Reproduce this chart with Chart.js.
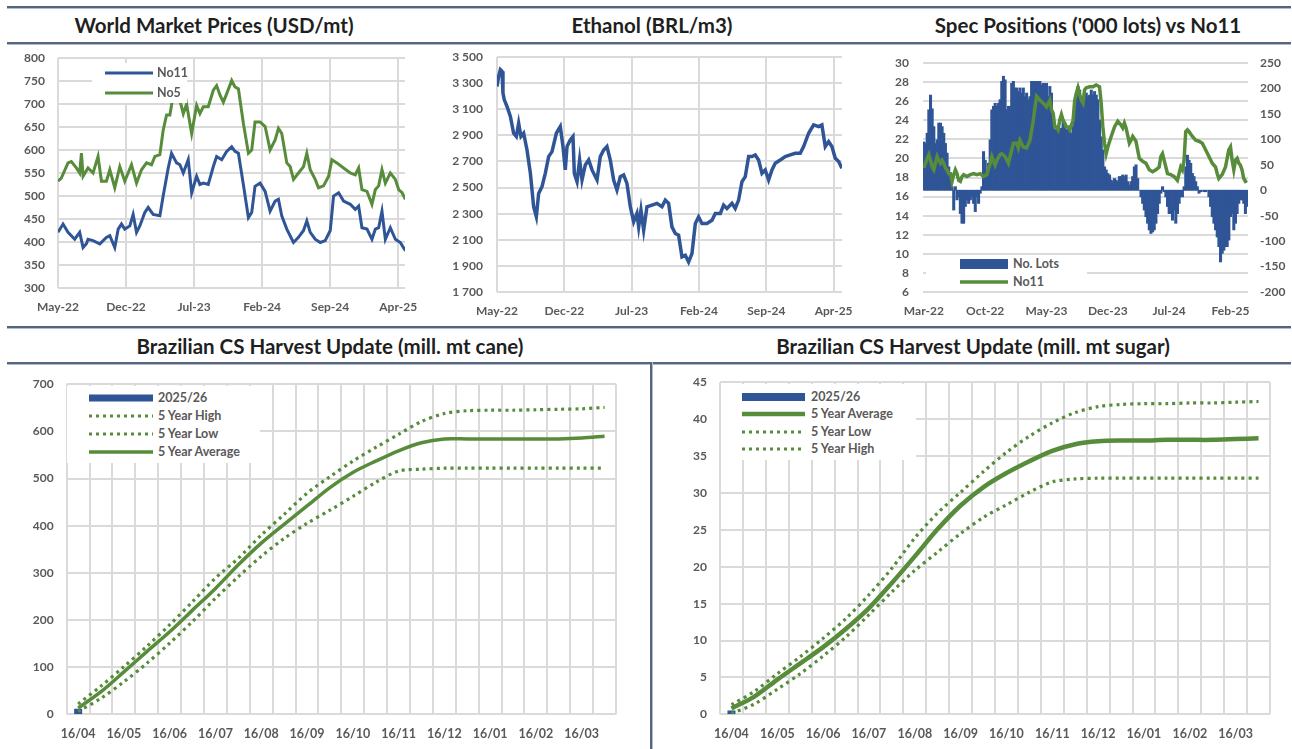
<!DOCTYPE html>
<html>
<head>
<meta charset="utf-8">
<title>Sugar market dashboard</title>
<script src="https://cdn.jsdelivr.net/npm/chart.js@4.4.0/dist/chart.umd.min.js"></script>
<style>
  html, body { margin: 0; padding: 0; background: #fff; }
  body { position: relative; width: 1292px; height: 749px; overflow: hidden; font-family: Lato, "Open Sans", sans-serif; }
  canvas { position: absolute; }
  .rule { position: absolute; height: 2px; background: #56647f; border-bottom: 1px solid #b3bccd; }
  .vrule { position: absolute; width: 2px; background: #56647f; border-right: 1px solid #b3bccd; }
  .title { position: absolute; transform: translateX(-50%); white-space: nowrap; font-weight: 700; font-size: 20.5px; line-height: 22px; color: #1f1f1f; }
  .legend { position: absolute; background: #fff; }
  .legend .item { position: absolute; left: 0; width: 100%; height: 14px; }
  .legend svg { position: absolute; top: 0; }
  .legend span { position: absolute; top: 0; line-height: 14px; font-size: 12.5px; font-weight: 700; color: #595959; white-space: nowrap; }
</style>
</head>
<body>
<div class="rule" style="left:7px; top:6px; width:1284px"></div>
<div class="rule" style="left:7px; top:42px; width:1284px"></div>
<div class="rule" style="left:7px; top:326px; width:1284px"></div>
<div class="rule" style="left:7px; top:362px; width:1284px"></div>
<div class="vrule" style="left:650px; top:362px; height:387px"></div>

<div class="title" style="left:214px; top:14px">World Market Prices (USD/mt)</div>
<div class="title" style="left:652px; top:14px">Ethanol (BRL/m3)</div>
<div class="title" style="left:1088px; top:14px">Spec Positions ('000 lots) vs No11</div>
<div class="title" style="left:330px; top:335px">Brazilian CS Harvest Update (mill. mt cane)</div>
<div class="title" style="left:973px; top:335px">Brazilian CS Harvest Update (mill. mt sugar)</div>

<canvas id="prices" width="430" height="282" style="left:0; top:46px"></canvas>
<canvas id="ethanol" width="430" height="282" style="left:430px; top:46px"></canvas>
<canvas id="spec" width="432" height="282" style="left:860px; top:46px"></canvas>
<canvas id="cane" width="650" height="383" style="left:0; top:366px"></canvas>
<canvas id="sugar" width="638" height="383" style="left:654px; top:366px"></canvas>

<script>
// months counted from May-22 (prices, ethanol) or Mar-22 (spec positions)
const no11Months = [0,0.52,1.03,1.72,2.23,2.58,2.92,3.09,3.61,4.30,4.98,5.33,5.84,6.19,6.53,6.87,7.39,7.73,8.08,8.42,8.93,9.28,9.79,10.48,10.82,11.34,11.68,12.2,12.54,12.89,13.4,13.75,14.26,14.6,14.95,15.46,15.98,16.32,16.84,17.35,17.87,18.21,18.56,19.07,19.59,19.93,20.27,20.79,21.31,21.82,22.34,22.68,23.02,23.54,24.23,24.74,25.26,25.6,25.95,26.46,26.98,27.49,28.01,28.35,28.87,29.38,30.07,30.58,30.93,31.27,31.79,32.3,32.65,32.99,33.33,33.68,34.19,34.71,35.22,35.74];
const no11Prices = [421,439,421,406,421,388,396,406,403,396,410,414,388,428,439,428,435,460,421,435,464,475,460,457,500,561,593,572,568,550,579,507,543,525,528,525,564,586,579,597,607,597,593,525,453,464,521,528,510,467,489,493,457,428,399,410,425,446,421,406,399,403,425,500,507,489,482,471,478,431,428,406,428,431,467,406,431,406,399,381];

const no5Months = [0,0.34,1.03,1.37,1.89,2.23,2.41,2.58,3.09,3.61,4.12,4.47,4.98,5.33,5.84,6.36,6.87,7.56,8.08,8.59,9.11,9.62,9.97,10.48,10.82,11.17,11.51,11.86,12.54,12.89,13.23,13.75,14.26,14.6,14.95,15.46,15.98,16.32,16.67,17.01,17.35,17.87,18.21,18.56,19.07,19.59,19.93,20.27,20.79,21.31,21.82,22.34,22.68,23.02,23.54,23.88,24.23,24.74,25.26,25.6,25.95,26.46,26.8,27.32,27.84,28.18,28.69,29.38,30.07,30.58,30.93,31.27,31.79,32.3,32.65,32.99,33.33,33.68,34.19,34.71,35.05,35.4,35.74];
const no5Prices = [532,539,572,575,561,550,593,543,561,550,586,532,532,557,518,564,532,568,528,557,572,568,586,590,643,676,676,720,708,679,700,636,697,679,694,694,730,740,719,704,722,751,737,733,658,593,600,661,661,651,600,622,647,636,572,564,536,550,564,593,557,536,518,522,543,579,572,561,550,546,561,514,510,482,514,522,557,528,550,536,514,507,493];

const ethanolMonths = [0,0.17,0.35,0.52,0.62,0.76,1.04,1.39,1.73,2.01,2.25,2.49,2.77,3.12,3.47,3.81,4.09,4.33,4.68,5.02,5.37,5.72,6.17,6.58,6.86,7.10,7.28,7.62,7.90,8.04,8.32,8.59,8.84,9.18,9.53,9.88,10.40,10.74,11.09,11.43,11.78,12.13,12.47,12.82,13.17,13.51,13.86,14.21,14.55,14.73,14.97,15.25,15.59,16.11,16.63,17.15,17.50,17.84,18.19,18.54,18.88,19.23,19.58,19.92,20.27,20.62,20.96,21.31,21.83,22.35,22.70,23.22,23.56,23.91,24.43,24.77,25.12,25.47,25.81,26.16,26.51,26.85,27.20,27.55,27.89,28.24,28.59,28.93,29.45,29.97,30.49,31.01,31.53,31.88,32.40,32.92,33.44,33.78,34.13,34.48,34.82,35.17,35.52,35.86];
const ethanolPrices = [3275,3351,3403,3390,3224,3172,3121,3044,2916,2891,2993,2891,2916,2788,2609,2353,2276,2455,2507,2609,2737,2775,2916,2967,2814,2635,2814,2865,2891,2609,2545,2711,2558,2673,2711,2635,2558,2737,2788,2814,2711,2558,2481,2583,2596,2532,2353,2238,2302,2199,2327,2174,2353,2366,2379,2353,2404,2379,2199,2148,2135,1969,1981,1930,1994,2225,2276,2225,2225,2250,2302,2302,2366,2340,2379,2340,2404,2545,2583,2737,2737,2750,2711,2609,2635,2558,2635,2686,2711,2737,2750,2763,2763,2814,2916,2980,2967,2980,2814,2852,2814,2724,2699,2647];

const specNo11Months = [0,0.19,0.38,0.57,0.76,0.95,1.14,1.32,1.51,1.70,1.89,2.08,2.27,2.46,2.65,2.84,3.03,3.22,3.41,3.59,3.78,3.97,4.16,4.35,4.54,4.92,5.30,5.68,6.05,6.43,6.81,7.19,7.57,7.76,7.95,8.13,8.32,8.70,8.89,9.27,9.65,9.84,10.22,10.59,10.78,10.97,11.35,11.73,12.11,12.49,12.86,13.24,13.62,14.00,14.38,14.57,14.76,14.95,15.13,15.32,15.51,15.70,15.89,16.08,16.27,16.46,16.65,17.03,17.22,17.40,17.59,17.78,17.97,18.16,18.35,18.54,18.92,19.30,19.67,20.05,20.24,20.43,20.62,20.81,21.00,21.38,21.76,22.13,22.51,22.70,22.89,23.08,23.46,23.65,23.84,24.21,24.59,24.97,25.35,25.73,26.11,26.49,26.86,27.05,27.24,27.43,27.62,27.81,28.19,28.57,28.94,29.13,29.32,29.51,29.70,29.89,30.08,30.27,30.65,31.03,31.40,31.78,32.16,32.54,32.92,33.30,33.49,33.67,34.05,34.43,34.81,35.00,35.19,35.38,35.57,35.76,35.95,36.13,36.32,36.51,36.70,36.89];
const specNo11 = [19.0,19.5,20.0,20.4,19.8,19.1,18.8,19.5,20.2,19.8,19.5,19.8,19.5,19.0,18.8,18.4,18.4,17.6,18.3,18.8,18.4,17.7,17.6,18.1,18.3,18.1,18.3,18.4,18.3,18.4,18.1,18.3,19.5,20.2,19.7,19.3,19.8,20.4,20.5,20.2,19.5,20.2,21.6,21.6,21.1,21.9,21.2,21.1,21.9,24.0,26.5,26.1,25.8,25.4,26.1,25.1,24.7,23.3,23.3,23.0,24.0,24.6,24.0,23.7,23.3,23.3,23.0,24.0,26.1,26.8,27.4,26.7,26.1,25.8,27.2,27.4,27.5,27.5,27.7,27.5,25.8,23.3,21.6,20.5,21.2,22.3,23.3,23.9,23.5,23.2,23.7,23.2,21.6,21.9,22.3,21.8,20.0,19.7,19.5,18.8,18.6,18.8,19.1,20.2,20.5,19.8,19.1,18.4,18.3,18.1,17.7,18.4,19.1,18.8,19.8,22.8,23.0,22.8,22.3,21.9,21.8,21.6,20.9,20.2,19.5,19.1,18.4,17.9,18.3,19.1,20.9,21.2,19.8,18.8,19.8,20.0,19.5,19.3,18.8,17.9,17.6,17.7];

// spec lots ('000), one reading per 0.1892 month starting Mar-22
const lotsStep = 0.1892;
const specLots = [95,92,112,158,187,160,125,92,99,132,132,125,112,92,73,46,27,7,-39,7,-19,-13,-46,-65,-65,-32,-19,-26,-19,-13,-26,-42,-13,-26,-6,7,76,59,27,53,99,158,165,171,165,171,178,214,224,217,158,165,165,210,214,201,201,194,201,191,201,184,191,178,184,214,214,214,214,214,214,207,210,210,210,184,204,191,145,119,119,122,119,122,138,125,119,119,115,112,125,171,191,204,197,178,178,174,191,184,187,197,187,194,187,178,138,105,79,46,40,33,30,20,17,23,20,17,27,27,30,27,30,17,10,17,27,46,50,23,0,-13,-26,-39,-52,-65,-78,-85,-82,-78,-65,-46,-26,-6,7,-3,-13,-32,-46,-46,-59,-39,-65,-46,-26,-13,-13,7,46,69,59,53,33,27,17,7,-6,-3,0,-3,-3,0,-13,-32,-52,-65,-78,-92,-111,-141,-124,-118,-111,-111,-98,-52,-46,-78,-65,-46,-26,-19,-19,-26,-46,-32];

const harvestDates = ['16/04','01/05','16/05','01/06','16/06','01/07','16/07','01/08','16/08','01/09','16/09','01/10','16/10','01/11','16/11','01/12','16/12','01/01','16/01','01/02','16/02','01/03','16/03','01/04'];
const cane2025 = [12];
const caneAvg = [13,48,90,133,175,221,267,317,363,403,442,481,513,537,559,576,584,584,584,584,584,584,586,590];
const caneHigh = [22,60,101,144,190,239,289,331,380,424,469,504,537,566,594,621,638,644,645,645,646,647,648,651];
const caneLow = [6,34,69,108,151,197,246,292,335,373,405,433,462,492,516,520,522,522,522,522,522,522,522,522];
const sugar2025 = [0.5];
const sugarAvg = [0.8,2.4,4.7,6.9,9.1,11.6,14.4,17.8,21.4,25.1,28.3,30.8,32.7,34.3,35.7,36.6,37.0,37.1,37.1,37.2,37.2,37.2,37.3,37.4];
const sugarHigh = [1.3,3.1,5.5,7.8,10.3,13.0,16.2,19.8,23.9,27.3,30.1,32.9,35.5,37.7,39.5,40.9,41.7,42.0,42.1,42.1,42.2,42.2,42.3,42.4];
const sugarLow = [0.1,1.4,3.4,5.5,7.9,10.5,13.5,16.6,19.5,22.0,24.5,26.7,28.4,30.1,31.5,31.9,32.0,32.0,32.0,32.0,32.0,32.0,32.0,32.0];

const BLUE = '#2f5597';
const GREEN = '#578c3a';
const GRID = '#dadada';
const TICK = '#595959';
const tickFont = { family: 'Lato', size: 12, weight: 'bold' };
const monthNames = ['Jan','Feb','Mar','Apr','May','Jun','Jul','Aug','Sep','Oct','Nov','Dec'];

function monthLabel(v, startMonth) {
  const k = startMonth + Math.round(v);
  return monthNames[k % 12] + '-' + (22 + Math.floor(k / 12));
}
const pts = (xs, ys) => xs.map((x, i) => ({ x: x, y: ys[i] }));
// pin axis sizes and drop the label overhang padding so the plot boxes land where the reference has them
const fixWidth = w => s => { s.width = w; s.paddingTop = 0; s.paddingBottom = 0; };
const fixHeight = h => s => { s.height = h; s.paddingLeft = 0; s.paddingRight = 0; };
const spaced = v => String(v).replace(/\B(?=(\d{3})+(?!\d))/g, ' ');
const noGrid = () => ({ display: false, drawTicks: false });

// grid lines stroked by hand: at the ticks of the listed axes, or at category edges for offset axes
const plotGrid = {
  id: 'plotGrid',
  beforeDatasetsDraw(chart, args, opts) {
    const a = chart.chartArea;
    const ctx = chart.ctx;
    ctx.save();
    ctx.strokeStyle = GRID;
    ctx.lineWidth = 2;
    ctx.beginPath();
    (opts.axes || []).forEach(id => {
      const s = chart.scales[id];
      let pos;
      if (s.type === 'category') {
        pos = [];
        for (let i = 0; i <= s.ticks.length; i++) pos.push(s.left + (s.right - s.left) * i / s.ticks.length);
      } else {
        pos = s.ticks.map(t => s.getPixelForValue(t.value));
      }
      pos.forEach(p => {
        p = Math.round(p);
        if (s.isHorizontal()) { ctx.moveTo(p, a.top); ctx.lineTo(p, a.bottom); }
        else { ctx.moveTo(a.left, p); ctx.lineTo(a.right, p); }
      });
    });
    ctx.stroke();
    ctx.restore();
  }
};

Chart.defaults.font.family = 'Lato';
Chart.defaults.animation = false;

function baseOptions(gridAxes) {
  return {
    responsive: false,
    devicePixelRatio: 1,
    plugins: { legend: { display: false }, tooltip: { enabled: false }, plotGrid: { axes: gridAxes } },
    elements: { point: { radius: 0 } }
  };
}

function monthAxis(max, startMonth, height, min) {
  return {
    type: 'linear', min: min || 0, max: max, offset: false, afterFit: fixHeight(height),
    ticks: { stepSize: 7, includeBounds: false, autoSkip: false, maxRotation: 0,
             font: tickFont, color: TICK, padding: 12, callback: v => monthLabel(v, startMonth) },
    grid: noGrid(), border: { display: false }
  };
}

const prices = new Chart(document.getElementById('prices'), {
  data: { datasets: [
    { type: 'line', label: 'No11', data: pts(no11Months, no11Prices), borderColor: BLUE, borderWidth: 3, tension: 0 },
    { type: 'line', label: 'No5', data: pts(no5Months, no5Prices), borderColor: GREEN, borderWidth: 3, tension: 0 }
  ]},
  plugins: [plotGrid],
  options: Object.assign(baseOptions(['x', 'y']), {
    layout: { padding: { left: 0, right: 25, top: 12, bottom: 0 } },
    scales: {
      x: monthAxis(35.7, 4, 40),
      y: { type: 'linear', min: 300, max: 800, afterFit: fixWidth(58),
           ticks: { stepSize: 50, font: tickFont, color: TICK, padding: 13 },
           grid: noGrid(), border: { display: false } }
    }
  })
});

const ethanol = new Chart(document.getElementById('ethanol'), {
  data: { datasets: [
    { type: 'line', label: 'Ethanol', data: pts(ethanolMonths, ethanolPrices), borderColor: BLUE, borderWidth: 3.5, tension: 0 }
  ]},
  plugins: [plotGrid],
  options: Object.assign(baseOptions(['x', 'y']), {
    layout: { padding: { left: 0, right: 18, top: 11, bottom: 0 } },
    scales: {
      x: monthAxis(35.87, 4, 36),
      y: { type: 'linear', min: 1700, max: 3500, afterFit: fixWidth(67),
           ticks: { stepSize: 200, font: tickFont, color: TICK, padding: 14, callback: spaced },
           grid: noGrid(), border: { display: false } }
    }
  })
});

const spec = new Chart(document.getElementById('spec'), {
  data: { datasets: [
    { type: 'line', label: 'No11', data: pts(specNo11Months, specNo11), borderColor: GREEN, borderWidth: 3.5, tension: 0, yAxisID: 'y', order: 0 },
    { type: 'bar', label: 'No. Lots', data: specLots.map((v, i) => ({ x: i * lotsStep, y: v })), backgroundColor: BLUE,
      borderWidth: 0, barThickness: 2.4, yAxisID: 'y1', order: 1 }
  ]},
  plugins: [plotGrid],
  options: Object.assign(baseOptions(['y']), {
    layout: { padding: { left: 0, right: 0, top: 17, bottom: 0 } },
    scales: {
      x: monthAxis(37.0, 2, 36, -0.1),
      y: { type: 'linear', position: 'left', min: 6, max: 30, afterFit: fixWidth(63),
           ticks: { stepSize: 2, font: tickFont, color: TICK, padding: 14 },
           grid: noGrid(), border: { display: false } },
      y1: { type: 'linear', position: 'right', min: -200, max: 250, afterFit: fixWidth(44),
            ticks: { stepSize: 50, font: tickFont, color: TICK, padding: 12 },
            grid: noGrid(), border: { display: false } }
    }
  })
});

function harvestChart(id, bar, avg, high, low, yMax, yStep, yWidth, padRight, padTop, avgWidth) {
  return new Chart(document.getElementById(id), {
    data: {
      labels: harvestDates,
      datasets: [
        { type: 'bar', label: '2025/26', data: bar, backgroundColor: BLUE, barPercentage: 0.35, categoryPercentage: 1, order: 3 },
        { type: 'line', label: '5 Year High', data: high, borderColor: GREEN, borderWidth: 3.2, borderDash: [3, 4], tension: 0.3, order: 2 },
        { type: 'line', label: '5 Year Low', data: low, borderColor: GREEN, borderWidth: 3.2, borderDash: [3, 4], tension: 0.3, order: 1 },
        { type: 'line', label: '5 Year Average', data: avg, borderColor: GREEN, borderWidth: avgWidth, tension: 0.3, order: 0 }
      ]
    },
    plugins: [plotGrid],
    options: Object.assign(baseOptions(['x', 'y']), {
      layout: { padding: { left: 0, right: padRight, top: padTop, bottom: 0 } },
      scales: {
        x: { type: 'category', offset: true, afterFit: fixHeight(34.7),
             ticks: { autoSkip: false, maxRotation: 0, minRotation: 0, font: Object.assign({}, tickFont, { size: 12.5 }), color: TICK, padding: 12,
                      callback: function (v, i) { return i % 2 ? '' : this.getLabelForValue(v); } },
             grid: noGrid(), border: { display: false } },
        y: { type: 'linear', min: 0, max: yMax, afterFit: fixWidth(yWidth),
             ticks: { stepSize: yStep, font: tickFont, color: TICK, padding: 13 },
             grid: noGrid(), border: { display: false } }
      }
    })
  });
}

const cane = harvestChart('cane', cane2025, caneAvg, caneHigh, caneLow, 700, 100, 66.7, 34, 18.3, 3.5);
const sugar = harvestChart('sugar', sugar2025, sugarAvg, sugarHigh, sugarLow, 45, 5, 66, 22, 16.3, 4.5);

// legends drawn as html boxes on top of the plots
function legend(chart, box, order) {
  const div = document.createElement('div');
  div.className = 'legend';
  Object.assign(div.style, { left: box.left + 'px', top: box.top + 'px', width: box.width + 'px', height: box.height + 'px' });
  order.forEach((idx, r) => {
    const ds = chart.data.datasets[idx];
    const item = document.createElement('div');
    item.className = 'item';
    item.style.top = (box.rows[r] - 7) + 'px';
    const w = box.sampleWidth;
    let mark;
    if (ds.type === 'bar') {
      mark = `<rect x="0" y="${7 - box.barH / 2}" width="${w}" height="${box.barH}" fill="${ds.backgroundColor}"/>`;
    } else {
      const dash = ds.borderDash ? `stroke-dasharray="${ds.borderDash.join(' ')}"` : '';
      mark = `<line x1="0" y1="7" x2="${w}" y2="7" stroke="${ds.borderColor}" stroke-width="${ds.borderWidth}" ${dash}/>`;
    }
    item.innerHTML = `<svg width="${w}" height="14" style="left:${box.sampleLeft}px">${mark}</svg>` +
      `<span style="left:${box.textLeft}px">${ds.label}</span>`;
    div.appendChild(item);
  });
  document.body.appendChild(div);
}

legend(prices, { left: 92, top: 63, width: 95, height: 40, rows: [10.3, 30.3], sampleLeft: 13, sampleWidth: 48, textLeft: 65, barH: 8 }, [0, 1]);
legend(spec, { left: 926, top: 255, width: 161, height: 34, rows: [9, 26.7], sampleLeft: 34, sampleWidth: 48, textLeft: 87, barH: 10 }, [1, 0]);
legend(cane, { left: 67, top: 386, width: 193, height: 77, rows: [12.3, 30, 48, 66], sampleLeft: 22, sampleWidth: 64, textLeft: 91, barH: 7 }, [0, 1, 2, 3]);
legend(sugar, { left: 721, top: 384, width: 195, height: 76, rows: [12.7, 30, 47.7, 65.3], sampleLeft: 21, sampleWidth: 63, textLeft: 90, barH: 8 }, [0, 3, 2, 1]);
</script>
</body>
</html>
